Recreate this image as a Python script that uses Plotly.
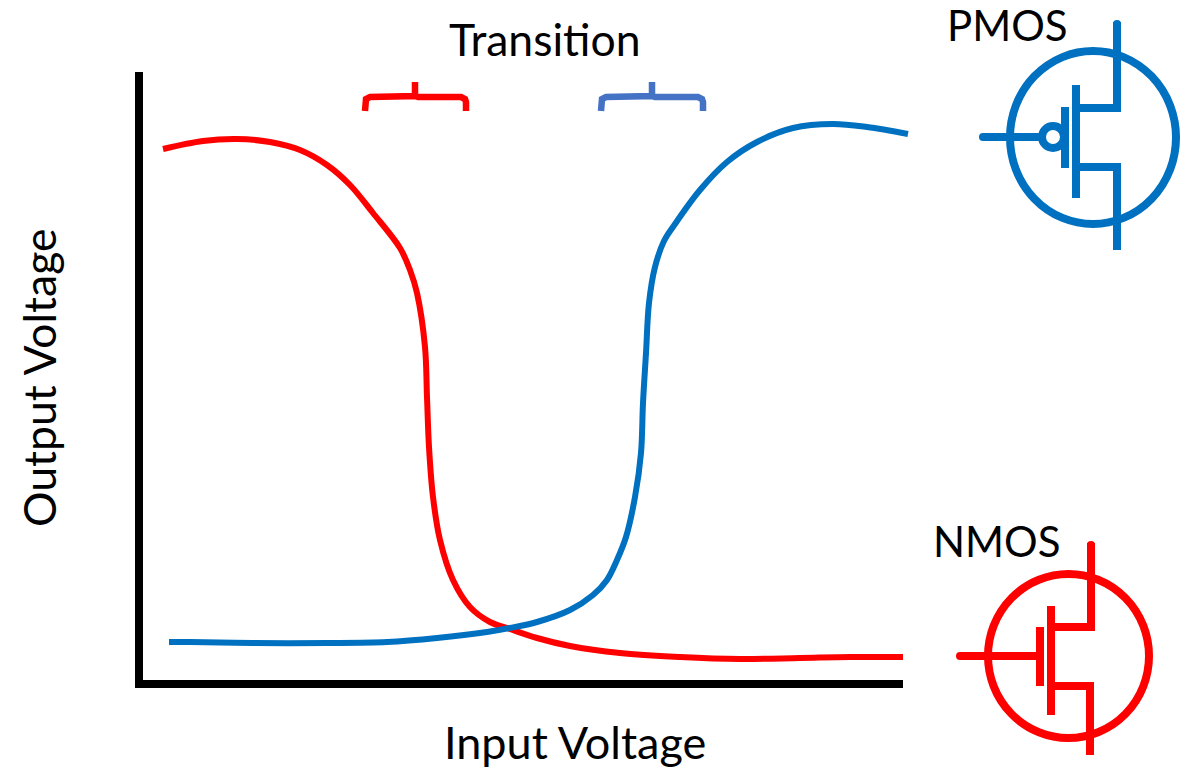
import plotly.graph_objects as go

# Transfer curves (page-scale units)
red_x = [163, 203, 237, 270, 300, 327, 350, 373, 400, 410, 417, 425, 427, 429, 433, 440, 453, 470, 490, 510, 537, 570, 620, 680, 740, 800, 850, 903]
red_y = [149, 141, 139, 142, 150, 165, 185, 213, 248, 270, 293, 347, 397, 447, 497, 540, 580, 607, 622, 629, 638, 646, 653, 657, 659, 658, 657, 657]
blue_x = [169, 190, 253, 327, 387, 437, 487, 510, 537, 570, 593, 607, 617, 626, 635, 641, 643, 646, 649, 655, 664, 675, 700, 727, 757, 793, 833, 867, 908]
blue_y = [642, 642, 643, 643, 642, 638, 632, 628, 622, 610, 595, 580, 560, 537, 497, 453, 403, 353, 303, 267, 241, 224, 190, 162, 142, 128, 124, 127, 134]

# Axes
axis_x = [139, 139, 903]
axis_y = [72, 684, 684]

# Transition brackets
red_bracket_x = [365, 365, 366, 370, 412, 415, 415, 415, 418, 461, 465, 466, 466]
blue_bracket_x = [601, 601, 602, 606, 649, 652, 652, 652, 655, 698, 702, 703, 703]
bracket_y = [111, 102, 99, 97, 97, 96, 82, 96, 97, 97, 99, 102, 111]

# PMOS symbol
pmos_circle = [1010, 51, 1176, 224]
pmos_bubble = [1042, 126, 1064, 148]
pmos_segments = [
    ([1117, 1117, 1076], [22, 108, 108]),
    ([1076, 1076], [85, 198]),
    ([1065, 1065], [107, 168]),
    ([1076, 1117, 1117], [167, 167, 250]),
    ([983, 1042], [137, 137]),
]
pmos_ends = ([983, 1117], [137, 24])

# NMOS symbol
nmos_circle = [988, 574, 1149, 738]
nmos_segments = [
    ([1091, 1091, 1051], [543, 627, 627]),
    ([1051, 1051], [606, 715]),
    ([1040, 1040], [627, 686]),
    ([960, 1040], [656, 656]),
    ([1051, 1090, 1090], [686, 686, 755]),
]
nmos_ends = ([960, 1091], [656, 545])

# Texts
labels = ["Transition", "PMOS", "NMOS", "Input Voltage"]
label_x = [545, 1007, 996, 574.5]
label_y = [38, 25, 541, 742]
label_size = [44.5, 42, 42, 45]
y_label = "Output Voltage"
y_label_pos = (38, 378)
y_label_size = 44.5

RED = "#FF0000"
CURVE_BLUE = "#0070C0"
BRACKET_BLUE = "#4472C4"
FONT = "Lato"

fig = go.Figure()


def line(x, y, color, width, name=None, shape="linear"):
    fig.add_trace(go.Scatter(x=x, y=y, mode="lines", name=name,
                             line=dict(color=color, width=width, shape=shape),
                             hoverinfo="skip", showlegend=False))


line(axis_x, axis_y, "#000000", 8, "axes")
line(red_x, red_y, RED, 6, "NMOS", "spline")
line(blue_x, blue_y, CURVE_BLUE, 6, "PMOS", "spline")
line(red_bracket_x, bracket_y, RED, 6.5, "NMOS transition")
line(blue_bracket_x, bracket_y, BRACKET_BLUE, 6.5, "PMOS transition")

for sx, sy in pmos_segments:
    line(sx, sy, CURVE_BLUE, 8)
for sx, sy in nmos_segments:
    line(sx, sy, RED, 8)
for (ex, ey), color in ((pmos_ends, CURVE_BLUE), (nmos_ends, RED)):
    fig.add_trace(go.Scatter(x=ex, y=ey, mode="markers", hoverinfo="skip", showlegend=False,
                             marker=dict(color=color, size=8, line=dict(width=0))))

for box, color in ((pmos_circle, CURVE_BLUE), (pmos_bubble, CURVE_BLUE), (nmos_circle, RED)):
    fig.add_shape(type="circle", xref="x", yref="y", x0=box[0], y0=box[1], x1=box[2], y1=box[3],
                  line=dict(color=color, width=8), fillcolor="rgba(0,0,0,0)")

for text, tx, ty, ts in zip(labels, label_x, label_y, label_size):
    fig.add_annotation(x=tx, y=ty, text=text, showarrow=False, xanchor="center", yanchor="middle",
                       font=dict(family=FONT, size=ts, color="#000000"))
fig.add_annotation(x=y_label_pos[0], y=y_label_pos[1], text=y_label, textangle=-90, showarrow=False,
                   xanchor="center", yanchor="middle", font=dict(family=FONT, size=y_label_size, color="#000000"))

fig.update_layout(
    width=1199, height=768, autosize=False,
    margin=dict(l=0, r=0, t=0, b=0),
    paper_bgcolor="#FFFFFF", plot_bgcolor="#FFFFFF",
    showlegend=False,
    xaxis=dict(range=[0, 1199], visible=False, domain=[0, 1]),
    yaxis=dict(range=[768, 0], visible=False, domain=[0, 1]),
)
fig.write_html("out.html", config={"displayModeBar": False},
               post_script="document.body.style.margin='0';document.body.style.overflow='hidden';")
